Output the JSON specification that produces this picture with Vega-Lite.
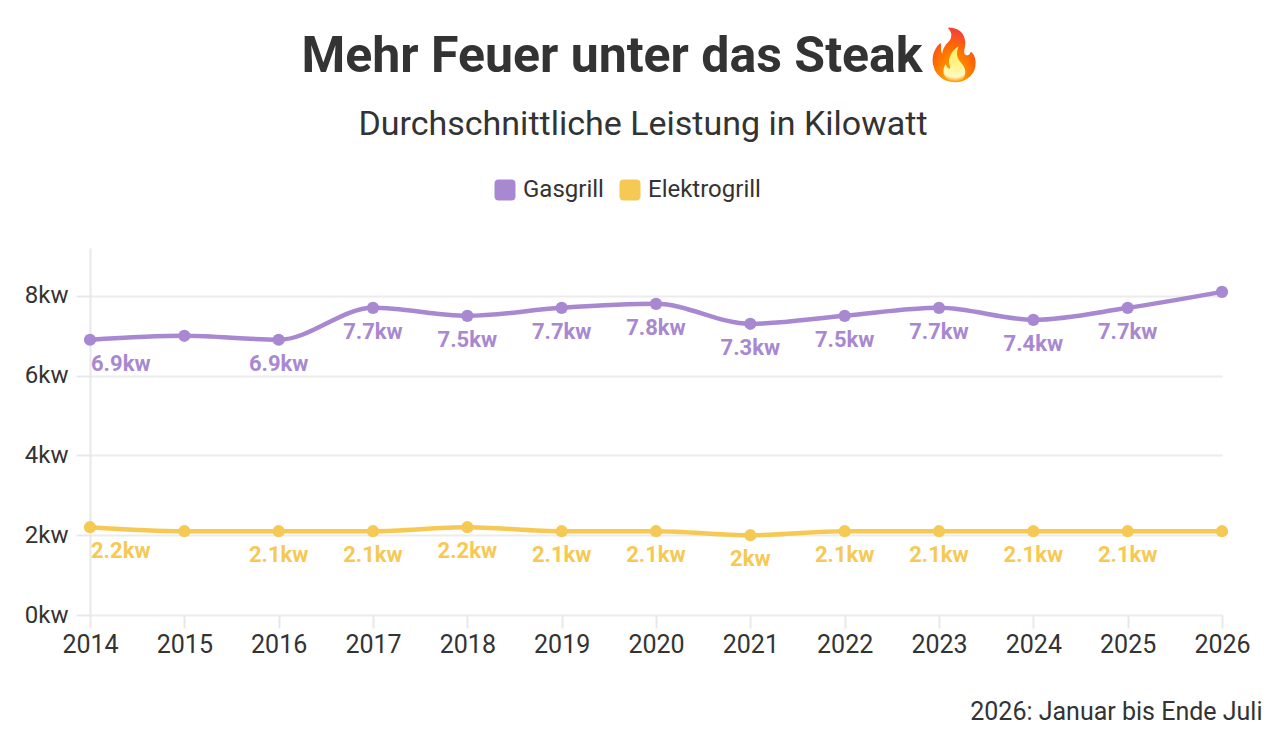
{
  "$schema": "https://vega.github.io/schema/vega-lite/v6.json",
  "autosize": "none",
  "width": 1132,
  "height": 367,
  "padding": {"left": 90, "top": 248, "right": 64, "bottom": 117},
  "background": "white",
  "title": {
    "text": "Mehr Feuer unter das Steak🔥",
    "subtitle": "Durchschnittliche Leistung in Kilowatt",
    "anchor": "middle",
    "dx": -13,
    "offset": 36,
    "font": "Roboto",
    "fontSize": 50,
    "fontWeight": "bold",
    "color": "#333333",
    "subtitleFont": "Roboto",
    "subtitleFontSize": 34,
    "subtitleColor": "#333333",
    "subtitlePadding": 26
  },
  "data": {
    "values": [
      {"year": 2014, "grill": "Gasgrill", "kw": 6.9},
      {"year": 2015, "grill": "Gasgrill", "kw": 7.0},
      {"year": 2016, "grill": "Gasgrill", "kw": 6.9},
      {"year": 2017, "grill": "Gasgrill", "kw": 7.7},
      {"year": 2018, "grill": "Gasgrill", "kw": 7.5},
      {"year": 2019, "grill": "Gasgrill", "kw": 7.7},
      {"year": 2020, "grill": "Gasgrill", "kw": 7.8},
      {"year": 2021, "grill": "Gasgrill", "kw": 7.3},
      {"year": 2022, "grill": "Gasgrill", "kw": 7.5},
      {"year": 2023, "grill": "Gasgrill", "kw": 7.7},
      {"year": 2024, "grill": "Gasgrill", "kw": 7.4},
      {"year": 2025, "grill": "Gasgrill", "kw": 7.7},
      {"year": 2026, "grill": "Gasgrill", "kw": 8.1},
      {"year": 2014, "grill": "Elektrogrill", "kw": 2.2},
      {"year": 2015, "grill": "Elektrogrill", "kw": 2.1},
      {"year": 2016, "grill": "Elektrogrill", "kw": 2.1},
      {"year": 2017, "grill": "Elektrogrill", "kw": 2.1},
      {"year": 2018, "grill": "Elektrogrill", "kw": 2.2},
      {"year": 2019, "grill": "Elektrogrill", "kw": 2.1},
      {"year": 2020, "grill": "Elektrogrill", "kw": 2.1},
      {"year": 2021, "grill": "Elektrogrill", "kw": 2.0},
      {"year": 2022, "grill": "Elektrogrill", "kw": 2.1},
      {"year": 2023, "grill": "Elektrogrill", "kw": 2.1},
      {"year": 2024, "grill": "Elektrogrill", "kw": 2.1},
      {"year": 2025, "grill": "Elektrogrill", "kw": 2.1},
      {"year": 2026, "grill": "Elektrogrill", "kw": 2.1}
    ]
  },
  "transform": [
    {"calculate": "datum.kw + 'kw'", "as": "label"}
  ],
  "encoding": {
    "x": {
      "field": "year",
      "type": "quantitative",
      "scale": {"domain": [2014, 2026], "nice": false, "zero": false},
      "axis": {
        "values": [2014, 2015, 2016, 2017, 2018, 2019, 2020, 2021, 2022, 2023, 2024, 2025, 2026],
        "format": "d",
        "grid": false,
        "domain": false,
        "tickColor": "#e8e8e8",
        "tickWidth": 2,
        "tickSize": 13,
        "labelFont": "Roboto",
        "labelFontSize": 25,
        "labelColor": "#333333",
        "labelPadding": 4,
        "labelFlush": false,
        "title": "2026: Januar bis Ende Juli",
        "titleFont": "Roboto",
        "titleFontSize": 25,
        "titleFontWeight": "normal",
        "titleColor": "#333333",
        "titleX": 1172,
        "titleY": 104,
        "titleAlign": "right",
        "titleBaseline": "alphabetic"
      }
    },
    "y": {
      "field": "kw",
      "type": "quantitative",
      "scale": {"domain": [0, 9.2], "nice": false},
      "axis": {
        "values": [0, 2, 4, 6, 8],
        "labelExpr": "datum.value + 'kw'",
        "domainColor": "#e8e8e8",
        "domainWidth": 2,
        "gridColor": "#ececec",
        "gridWidth": 2,
        "tickColor": "#e8e8e8",
        "tickWidth": 2,
        "tickSize": 14,
        "labelFont": "Roboto",
        "labelFontSize": 24,
        "labelColor": "#333333",
        "labelPadding": 8,
        "title": null
      }
    },
    "color": {
      "field": "grill",
      "type": "nominal",
      "scale": {"domain": ["Gasgrill", "Elektrogrill"], "range": ["#a888d0", "#f6c955"]},
      "legend": null
    }
  },
  "layer": [
    {
      "mark": {"type": "line", "interpolate": "monotone", "strokeWidth": 4.5},
      "encoding": {
        "color": {
          "field": "grill",
          "type": "nominal",
          "scale": {"domain": ["Gasgrill", "Elektrogrill"], "range": ["#a888d0", "#f6c955"]},
          "legend": {
            "orient": "none",
            "legendX": 403,
            "legendY": -70,
            "direction": "horizontal",
            "title": null,
            "symbolType": "M -0.6 -1 L 0.6 -1 Q 1 -1 1 -0.6 L 1 0.6 Q 1 1 0.6 1 L -0.6 1 Q -1 1 -1 0.6 L -1 -0.6 Q -1 -1 -0.6 -1 Z",
            "symbolSize": 440,
            "symbolStrokeWidth": 0,
            "symbolOpacity": 1,
            "labelFont": "Roboto",
            "labelFontSize": 24,
            "labelColor": "#333333",
            "labelOffset": 6,
            "columnPadding": 14
          }
        }
      }
    },
    {
      "mark": {"type": "point", "filled": true, "size": 150, "opacity": 1}
    },
    {
      "transform": [{"filter": "datum.year == 2014"}],
      "mark": {"type": "text", "align": "left", "baseline": "middle", "dx": 1, "dy": 24, "font": "Roboto", "fontSize": 22, "fontWeight": "bold"},
      "encoding": {"text": {"field": "label"}}
    },
    {
      "transform": [{"filter": "datum.year != 2014 && datum.year != 2015 && datum.year != 2026"}],
      "mark": {"type": "text", "align": "center", "baseline": "middle", "dy": 24, "font": "Roboto", "fontSize": 22, "fontWeight": "bold"},
      "encoding": {"text": {"field": "label"}}
    }
  ],
  "config": {
    "view": {"stroke": null}
  }
}
